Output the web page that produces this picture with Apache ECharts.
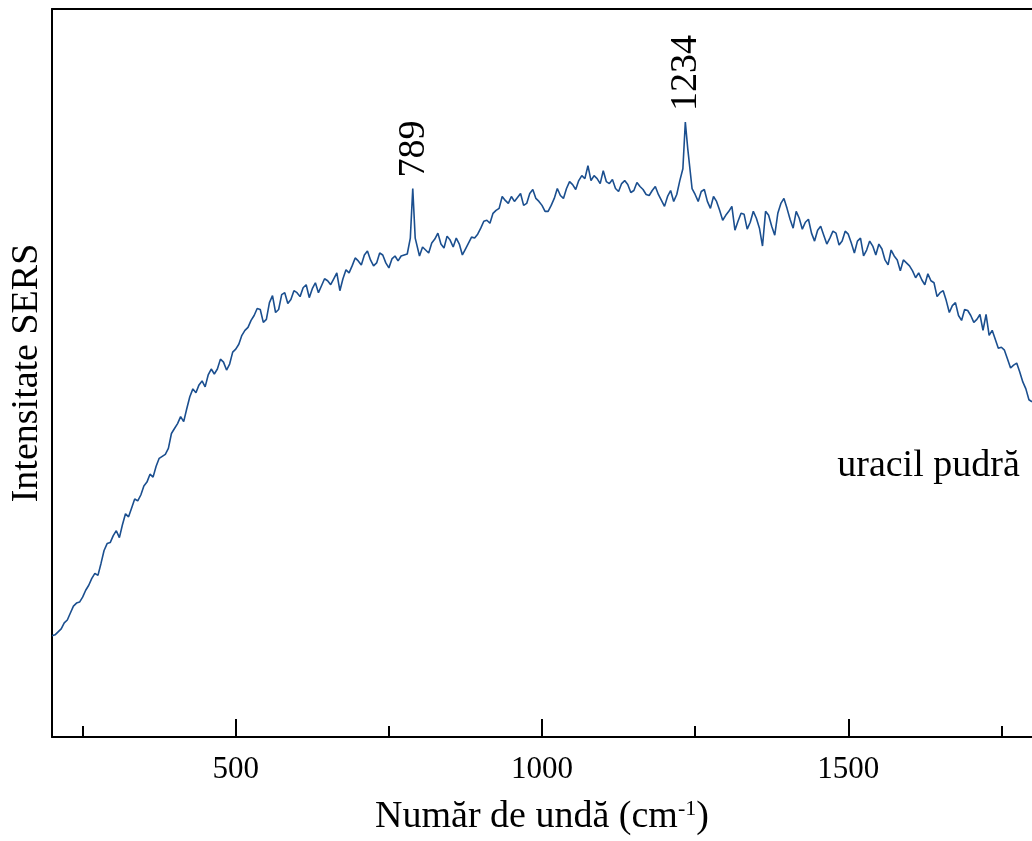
<!DOCTYPE html>
<html>
<head>
<meta charset="utf-8">
<script src="https://cdn.jsdelivr.net/npm/echarts@6/dist/echarts.min.js"></script>
<style>
  html, body { margin: 0; padding: 0; background: #fff; }
  #chart { width: 1032px; height: 841px; }
</style>
</head>
<body>
<div id="chart"></div>
<script>
// wavenumber (cm-1) and SERS intensity (arbitrary units)
const wavenumber = [
  200, 205, 210, 215, 220, 225, 230, 235, 240, 245,
  250, 255, 260, 265, 270, 275, 280, 285, 290, 295,
  300, 305, 310, 315, 320, 325, 330, 335, 340, 345,
  350, 355, 360, 365, 370, 375, 380, 385, 390, 395,
  400, 405, 410, 415, 420, 425, 430, 435, 440, 445,
  450, 455, 460, 465, 470, 475, 480, 485, 490, 495,
  500, 505, 510, 515, 520, 525, 530, 535, 540, 545,
  550, 555, 560, 565, 570, 575, 580, 585, 590, 595,
  600, 605, 610, 615, 620, 625, 630, 635, 640, 645,
  650, 655, 660, 665, 670, 675, 680, 685, 690, 695,
  700, 705, 710, 715, 720, 725, 730, 735, 740, 745,
  750, 755, 760, 765, 770, 775, 780, 785, 789, 793,
  800, 805, 810, 815, 820, 825, 830, 835, 840, 845,
  850, 855, 860, 865, 870, 875, 880, 885, 890, 895,
  900, 905, 910, 915, 920, 925, 930, 935, 940, 945,
  950, 955, 960, 965, 970, 975, 980, 985, 990, 995,
  1000, 1005, 1010, 1015, 1020, 1025, 1030, 1035, 1040, 1045,
  1050, 1055, 1060, 1065, 1070, 1075, 1080, 1085, 1090, 1095,
  1100, 1105, 1110, 1115, 1120, 1125, 1130, 1135, 1140, 1145,
  1150, 1155, 1160, 1165, 1170, 1175, 1180, 1185, 1190, 1195,
  1200, 1205, 1210, 1215, 1220, 1225, 1230, 1234, 1238, 1245,
  1250, 1255, 1260, 1265, 1270, 1275, 1280, 1285, 1290, 1295,
  1300, 1305, 1310, 1315, 1320, 1325, 1330, 1335, 1340, 1345,
  1350, 1355, 1360, 1365, 1370, 1375, 1380, 1385, 1390, 1395,
  1400, 1405, 1410, 1415, 1420, 1425, 1430, 1435, 1440, 1445,
  1450, 1455, 1460, 1465, 1470, 1475, 1480, 1485, 1490, 1495,
  1500, 1505, 1510, 1515, 1520, 1525, 1530, 1535, 1540, 1545,
  1550, 1555, 1560, 1565, 1570, 1575, 1580, 1585, 1590, 1595,
  1600, 1605, 1610, 1615, 1620, 1625, 1630, 1635, 1640, 1645,
  1650, 1655, 1660, 1665, 1670, 1675, 1680, 1685, 1690, 1695,
  1700, 1705, 1710, 1715, 1720, 1725, 1730, 1735, 1740, 1745,
  1750, 1755, 1760, 1765, 1770, 1775, 1780, 1785, 1790, 1795,
  1800
];
const intensity = [
  102, 103, 106, 109, 115, 118, 125, 132, 135, 136,
  141, 148, 153, 160, 165, 163, 175, 188, 195, 196,
  203, 208, 201, 214, 225, 222, 231, 240, 238, 244,
  253, 257, 265, 262, 273, 281, 283, 285, 291, 306,
  311, 316, 323, 318, 331, 343, 351, 347, 355, 359,
  353, 365, 371, 366, 371, 381, 378, 370, 376, 388,
  391, 396, 405, 410, 413, 420, 425, 432, 431, 418,
  421, 438, 445, 428, 431, 446, 448, 437, 441, 450,
  448, 444, 453, 456, 443, 452, 458, 448, 455, 462,
  460, 456, 462, 468, 450, 462, 471, 468, 475, 483,
  480, 476, 486, 490, 481, 475, 478, 488, 486, 478,
  473, 482, 485, 480, 485, 486, 487, 503, 553, 503,
  485, 494, 491, 488, 498, 502, 508, 497, 493, 505,
  501, 494, 503, 497, 486, 492, 498, 504, 503, 507,
  513, 520, 521, 518, 528, 531, 533, 545, 541, 538,
  545, 540, 544, 548, 536, 538, 548, 552, 543, 540,
  536, 530, 530, 536, 543, 553, 546, 543, 553, 560,
  557, 552, 561, 566, 563, 576, 561, 566, 563, 558,
  571, 560, 558, 562, 553, 550, 558, 561, 557, 549,
  551, 559, 555, 552, 547, 546, 551, 555, 547, 541,
  535, 545, 551, 540, 547, 561, 573, 620, 593, 553,
  547, 540, 550, 552, 540, 533, 545, 540, 531, 521,
  526, 530, 535, 511, 520, 528, 527, 512, 519, 530,
  523, 513, 495, 530, 526, 515, 506, 528, 538, 543,
  533, 522, 513, 530, 523, 512, 519, 522, 508, 500,
  511, 515, 506, 497, 503, 510, 508, 496, 500, 510,
  507, 498, 488, 500, 503, 485, 491, 500, 495, 486,
  497, 492, 481, 476, 491, 485, 481, 470, 481, 478,
  475, 470, 463, 468, 461, 456, 467, 460, 458, 444,
  448, 450, 440, 428, 435, 438, 425, 420, 431, 430,
  425, 418, 421, 426, 410, 426, 405, 410, 401, 392,
  393, 390, 381, 372, 375, 377, 368, 358, 351, 340,
  338
];
const majorTicks = [500, 1000, 1500];
const minorTicks = [250, 750, 1250, 1750];
const peaks = [789, 1234];
const sampleName = 'uracil pudră';

const serif = '"Liberation Serif", "DejaVu Serif", serif';
const lineColor = '#1b4f8f';

const chartDom = document.getElementById('chart');
const myChart = echarts.init(chartDom, null, { renderer: 'canvas' });

const points = wavenumber.map((w, i) => [w, intensity[i]]);

const option = {
  backgroundColor: '#fff',
  animation: false,
  grid: { left: 52, right: 0, top: 9, bottom: 97 },
  xAxis: [
    {
      type: 'value',
      min: 200,
      max: 1800,
      position: 'bottom',
      name: '{a|Număr de undă (cm}{s|-1}{a|)}',
      nameLocation: 'middle',
      nameGap: 61,
      nameTextStyle: {
        rich: {
          a: { fontFamily: serif, fontSize: 38, color: '#000' },
          s: { fontFamily: serif, fontSize: 22, color: '#000', verticalAlign: 'top' }
        }
      },
      axisLine: { show: true, lineStyle: { color: '#000', width: 2 } },
      axisTick: {
        show: true, inside: true, length: 18,
        customValues: majorTicks,
        lineStyle: { color: '#000', width: 2 }
      },
      axisLabel: {
        customValues: majorTicks,
        formatter: (v) => String(v),
        margin: 17,
        fontFamily: serif, fontSize: 31, color: '#000'
      },
      splitLine: { show: false }
    },
    {
      // minor ticks between the labelled ones
      type: 'value',
      min: 200,
      max: 1800,
      position: 'bottom',
      axisLine: { show: false },
      axisTick: {
        show: true, inside: true, length: 11,
        customValues: minorTicks,
        lineStyle: { color: '#000', width: 2 }
      },
      axisLabel: { show: false },
      splitLine: { show: false }
    },
    {
      type: 'value',
      min: 200,
      max: 1800,
      position: 'top',
      axisLine: { show: true, lineStyle: { color: '#000', width: 2 } },
      axisTick: { show: false },
      axisLabel: { show: false },
      splitLine: { show: false }
    }
  ],
  yAxis: {
    type: 'value',
    min: 0,
    max: 734,
    name: 'Intensitate SERS',
    nameLocation: 'middle',
    nameRotate: 90,
    nameGap: 6,
    nameTextStyle: { fontFamily: serif, fontSize: 38, color: '#000' },
    axisLine: { show: true, lineStyle: { color: '#000', width: 2 } },
    axisTick: { show: false },
    axisLabel: { show: false },
    splitLine: { show: false }
  },
  series: [
    {
      name: sampleName,
      type: 'line',
      data: points,
      showSymbol: false,
      smooth: false,
      lineStyle: { color: lineColor, width: 1.6 }
    }
  ]
};

myChart.setOption(option);

// peak labels and sample name, placed through the chart's own scales
const texts = peaks.map((p) => {
  const idx = wavenumber.indexOf(p);
  const pos = myChart.convertToPixel({ xAxisIndex: 0, yAxisIndex: 0 }, [p, intensity[idx]]);
  return {
    type: 'text',
    x: pos[0] + 1,
    y: pos[1] - 11,
    rotation: Math.PI / 2,
    style: {
      text: String(p),
      fontFamily: serif,
      fontSize: 38,
      fill: '#000',
      align: 'left',
      verticalAlign: 'middle'
    }
  };
});
const namePos = myChart.convertToPixel({ xAxisIndex: 0, yAxisIndex: 0 }, [1780, 273]);
texts.push({
  type: 'text',
  x: namePos[0],
  y: namePos[1],
  style: {
    text: sampleName,
    fontFamily: serif,
    fontSize: 38,
    fill: '#000',
    align: 'right',
    verticalAlign: 'middle'
  }
});
myChart.setOption({ graphic: texts });
</script>
</body>
</html>
